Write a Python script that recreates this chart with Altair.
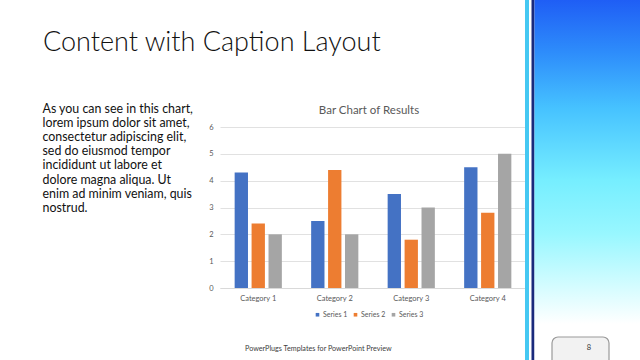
import altair as alt
import pandas as pd

categories = ["Category 1", "Category 2", "Category 3", "Category 4"]
series_names = ["Series 1", "Series 2", "Series 3"]
series_1 = [4.3, 2.5, 3.5, 4.5]
series_2 = [2.4, 4.4, 1.8, 2.8]
series_3 = [2.0, 2.0, 3.0, 5.0]
series_colors = ["#4472C4", "#ED7D31", "#A5A5A5"]
y_ticks = [0, 1, 2, 3, 4, 5, 6]

slide_title = "Content with Caption Layout"
chart_title = "Bar Chart of Results"
caption_lines = [
    "As you can see in this chart,",
    "lorem ipsum dolor sit amet,",
    "consectetur adipiscing elit,",
    "sed do eiusmod tempor",
    "incididunt ut labore et",
    "dolore magna aliqua. Ut",
    "enim ad minim veniam, quis",
    "nostrud.",
]
footer_text = "PowerPlugs Templates for PowerPoint  Preview"
page_number = "8"

rows = []
for vals, name in zip([series_1, series_2, series_3], series_names):
    for c, v in zip(categories, vals):
        rows.append({"category": c, "series": name, "value": v})
df = pd.DataFrame(rows)
one = pd.DataFrame({"k": [0]})

FONT = "Lato"
# plot area origin at (220, 127) on the 640x360 page
OX, OY = 220, 127

bars = alt.Chart(df).mark_bar().encode(
    x=alt.X("category:N", sort=categories, title=None,
            scale=alt.Scale(paddingInner=0.383, paddingOuter=0.1915),
            axis=alt.Axis(labelAngle=0, labelFontSize=7.5, labelColor="#595959",
                          labelFont=FONT, ticks=False, domainColor="#D9D9D9",
                          labelPadding=6, grid=False)),
    xOffset=alt.XOffset("series:N", sort=series_names,
                        scale=alt.Scale(paddingInner=0.2126, paddingOuter=0)),
    y=alt.Y("value:Q", title=None,
            scale=alt.Scale(domain=[0, 6], nice=False),
            axis=alt.Axis(values=y_ticks, labelFontSize=7.5, labelColor="#595959",
                          labelFont=FONT, ticks=False, domain=False,
                          gridColor="#D9D9D9", gridWidth=0.8, labelPadding=7)),
    color=alt.Color("series:N", sort=series_names,
                    scale=alt.Scale(domain=series_names, range=series_colors),
                    legend=alt.Legend(orient="none", legendX=94, legendY=184,
                                      direction="horizontal", title=None,
                                      symbolType="square", symbolSize=13,
                                      symbolStrokeWidth=0, labelFontSize=7,
                                      labelColor="#595959", labelFont=FONT,
                                      labelOffset=2, columnPadding=4)),
)

title_txt = alt.Chart(one).mark_text(
    text=chart_title, fontSize=11.5, font=FONT, color="#595959",
    align="center", baseline="middle"
).encode(x=alt.value(369 - OX), y=alt.value(111 - OY))

slide_title_txt = alt.Chart(one).mark_text(
    text=slide_title, fontSize=27, font=FONT, fontWeight=300, color="#111111",
    align="left", baseline="alphabetic"
).encode(x=alt.value(43 - OX), y=alt.value(51 - OY))

caption_txt = alt.Chart(one).mark_text(
    text=caption_lines, fontSize=12.4, font=FONT, color="#111111",
    align="left", baseline="top", lineHeight=14.2
).encode(x=alt.value(42.5 - OX), y=alt.value(102.5 - OY))

footer_txt = alt.Chart(one).mark_text(
    text=footer_text, fontSize=7.2, font=FONT, color="#404040",
    align="left", baseline="middle"
).encode(x=alt.value(245 - OX), y=alt.value(348.5 - OY))

cyan_strip = alt.Chart(one).mark_rect(color="#45C8F2").encode(
    x=alt.value(525 - OX), x2=alt.value(529 - OX),
    y=alt.value(0 - OY), y2=alt.value(360 - OY))
navy_strip = alt.Chart(one).mark_rect(color="#1A2A7C").encode(
    x=alt.value(531.5 - OX), x2=alt.value(534.5 - OX),
    y=alt.value(0 - OY), y2=alt.value(360 - OY))
panel = alt.Chart(one).mark_rect(
    color=alt.Gradient(gradient="linear", x1=0, x2=0, y1=0, y2=1, stops=[
        alt.GradientStop(offset=0.0, color="#1F5EF5"),
        alt.GradientStop(offset=0.15, color="#2E8EFB"),
        alt.GradientStop(offset=0.3, color="#46C2FF"),
        alt.GradientStop(offset=0.5, color="#76EEFF"),
        alt.GradientStop(offset=0.65, color="#98F7FF"),
        alt.GradientStop(offset=0.8, color="#D6FCFF"),
        alt.GradientStop(offset=0.9, color="#FFFFFF"),
        alt.GradientStop(offset=1.0, color="#FFFFFF"),
    ])
).encode(x=alt.value(534.5 - OX), x2=alt.value(640 - OX),
         y=alt.value(0 - OY), y2=alt.value(360 - OY))

page_shape = alt.Chart(one).mark_rect(
    fill="#F2F2F2", stroke="#9A9A9A", strokeWidth=1.2, cornerRadius=6
).encode(x=alt.value(552 - OX), x2=alt.value(609 - OX),
         y=alt.value(337 - OY), y2=alt.value(366 - OY))
page_txt = alt.Chart(one).mark_text(
    text=page_number, fontSize=7.5, font=FONT, color="#333333",
    align="center", baseline="middle"
).encode(x=alt.value(589 - OX), y=alt.value(348 - OY))

chart = alt.layer(
    cyan_strip, navy_strip, panel, page_shape, page_txt,
    bars, title_txt, slide_title_txt, caption_txt, footer_txt
).properties(
    width=306, height=161,
    autosize=alt.AutoSizeParams(type="none"),
    padding={"left": OX, "top": OY, "right": 640 - OX - 306, "bottom": 360 - OY - 161},
    background="white",
).configure_view(stroke=None)

chart.save("out.html", embed_options={"renderer": "svg", "actions": False})
